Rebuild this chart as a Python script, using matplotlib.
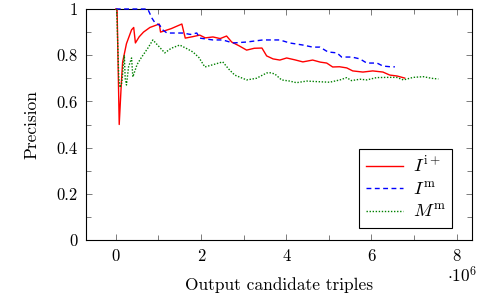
import matplotlib
matplotlib.use("Agg")
import matplotlib.pyplot as plt
from matplotlib.ticker import MultipleLocator, FuncFormatter

plt.rcParams['font.family'] = 'serif'
plt.rcParams['font.serif'] = ['cmr10', 'DejaVu Serif']
plt.rcParams['mathtext.fontset'] = 'cm'
plt.rcParams['axes.formatter.use_mathtext'] = True

# x values in millions of output candidate triples
red_x = [0, 0.03, 0.08, 0.13, 0.16, 0.25, 0.37, 0.42, 0.46, 0.55, 0.65, 0.80, 1.02, 1.05,
         1.3, 1.55, 1.63, 1.8, 1.97, 2.1, 2.28, 2.45, 2.6, 2.72, 2.9, 3.07, 3.25, 3.43,
         3.54, 3.69, 3.85, 4.01, 4.2, 4.39, 4.62, 4.8, 4.95, 5.09, 5.25, 5.42, 5.56,
         5.80, 6.03, 6.27, 6.43, 6.6, 6.78]
red_y = [1, 1, 0.5, 0.68, 0.77, 0.85, 0.91, 0.92, 0.853, 0.88, 0.90, 0.92, 0.935, 0.90,
         0.915, 0.935, 0.874, 0.88, 0.887, 0.875, 0.879, 0.872, 0.883, 0.857, 0.84, 0.822,
         0.83, 0.831, 0.797, 0.784, 0.779, 0.788, 0.78, 0.771, 0.779, 0.77, 0.766, 0.749,
         0.75, 0.745, 0.732, 0.727, 0.732, 0.727, 0.714, 0.71, 0.701]

blue_x = [0, 0.75, 0.85, 0.92, 1.03, 1.1, 1.2, 1.57, 1.75, 1.9, 1.97, 2.28, 2.51, 2.75,
          3.07, 3.45, 3.85, 4.08, 4.39, 4.62, 4.79, 4.98, 5.19, 5.30, 5.54, 5.73, 5.89,
          6.13, 6.27, 6.50, 6.55]
blue_y = [1, 1, 0.96, 0.94, 0.93, 0.91, 0.896, 0.896, 0.89, 0.896, 0.874, 0.866, 0.866,
          0.853, 0.857, 0.866, 0.866, 0.853, 0.844, 0.835, 0.835, 0.814, 0.81, 0.792,
          0.792, 0.784, 0.766, 0.766, 0.753, 0.749, 0.75]

green_x = [0.02, 0.07, 0.1, 0.14, 0.2, 0.22, 0.25, 0.3, 0.37, 0.4, 0.5, 0.6, 0.75, 0.87,
           0.98, 1.15, 1.3, 1.5, 1.65, 1.81, 1.95, 2.09, 2.3, 2.51, 2.65, 2.79, 3.07, 3.3,
           3.54, 3.62, 3.73, 3.89, 4.08, 4.24, 4.48, 4.79, 5.02, 5.26, 5.42, 5.53, 5.73,
           5.89, 6.12, 6.36, 6.59, 6.75, 6.98, 7.22, 7.41, 7.57]
green_y = [1, 0.70, 0.66, 0.68, 0.80, 0.70, 0.671, 0.75, 0.788, 0.706, 0.76, 0.79, 0.83,
           0.866, 0.844, 0.81, 0.83, 0.844, 0.83, 0.814, 0.79, 0.749, 0.76, 0.771, 0.74,
           0.714, 0.693, 0.70, 0.723, 0.724, 0.719, 0.693, 0.688, 0.681, 0.688, 0.685,
           0.683, 0.693, 0.703, 0.690, 0.696, 0.693, 0.703, 0.704, 0.704, 0.693, 0.704,
           0.707, 0.700, 0.697]

fig = plt.figure(figsize=(4.79, 2.97), dpi=100)
ax = fig.add_axes([0.1795, 0.1919, 0.8059, 0.7778])

ax.plot(red_x, red_y, color='#ff0000', lw=1.0, zorder=3, clip_on=False,
        label=r'$I^{\mathrm{i+}}$')
ax.plot(blue_x, blue_y, color='#0000ff', lw=1.0, ls=(0, (3.5, 2.5)), zorder=3,
        clip_on=False, label=r'$I^{\mathrm{m}}$')
ax.plot(green_x, green_y, color='#008000', lw=1.0, ls=(0, (1, 1.2)), zorder=3,
        clip_on=False, label=r'$M^{\mathrm{m}}$')

ax.set_xlim(-0.7, 8.36)
ax.set_ylim(0, 1)
ax.xaxis.set_major_locator(MultipleLocator(2))
ax.xaxis.set_minor_locator(MultipleLocator(1))
ax.yaxis.set_major_locator(MultipleLocator(0.2))
ax.yaxis.set_minor_locator(MultipleLocator(0.1))
ax.yaxis.set_major_formatter(FuncFormatter(lambda v, p: f'{v:g}'))
ax.xaxis.set_major_formatter(FuncFormatter(lambda v, p: f'{v:g}'))
ax.tick_params(which='both', direction='in', top=True, right=True, labelsize=12,
               width=0.6, color='#666666')
ax.tick_params(which='major', length=4.5, pad=6)
ax.tick_params(which='minor', length=3.5)
for s in ax.spines.values():
    s.set_linewidth(0.8)

ax.set_xlabel('Output candidate triples', fontsize=12.5, labelpad=10)
ax.set_ylabel('Precision', fontsize=12.5, labelpad=12)
fig.text(0.965, 0.072, r'$\cdot 10^6$', fontsize=12.5, ha='center', va='center')

leg = ax.legend(loc='lower right', bbox_to_anchor=(0.948, 0.052), fontsize=13.5,
                fancybox=False, edgecolor='black', framealpha=1, handlelength=2.0,
                borderpad=0.35, labelspacing=0.25, handletextpad=0.5, borderaxespad=0)
leg.get_frame().set_linewidth(0.8)

fig.savefig('out.png', dpi=100)
